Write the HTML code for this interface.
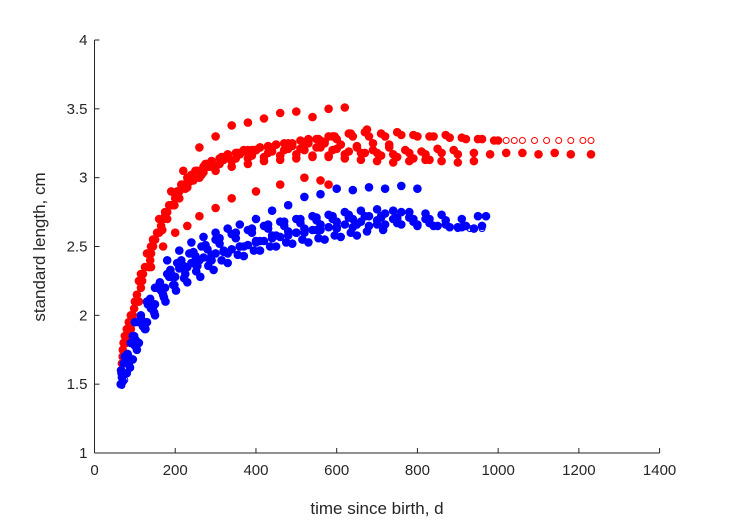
<!DOCTYPE html>
<html><head><meta charset="utf-8"><style>
body{margin:0;background:#fff}
svg text{font-family:"Liberation Sans",Arial,sans-serif;fill:#262626}
</style></head><body>
<svg id="chart" width="729" height="521" xmlns="http://www.w3.org/2000/svg">
<rect width="729" height="521" fill="#fff"/>
<g id="marks"></g>
<g id="axes"></g>
<text x="377" y="514" font-size="17" text-anchor="middle">time since birth, d</text>
<text transform="translate(45,247) rotate(-90)" font-size="17" text-anchor="middle">standard length, cm</text>
</svg>
<script>
const xTicks=[0,200,400,600,800,1000,1200,1400];
const yTicks=[1,1.5,2,2.5,3,3.5,4];
const xTickLabels=["0","200","400","600","800","1000","1200","1400"];
const yTickLabels=["1","1.5","2","2.5","3","3.5","4"];
// red (filled) trajectories: times and lengths
const redT=[
[70,100,130,160,190,220,260,300,340,380,420,460,500,540,580,620],
[70,95,120,150,180,210,240,280,320,360,400,440,480,520,560,600,640,680,720,760,800,840,880,920,960,1000],
[75,105,135,165,195,225,260,300,340,380,420,460,500,540,580,620,660,700,740,780,820,860,900,940,980,1020,1060,1100,1140,1180,1230],
[68,90,115,140,170,200,230,270,310,350,390,430,470,510,550,590,630,670,710,750,790,830,870,910,950,990],
[72,98,125,155,185,215,250,290,330,370,410,450,490,530,570,610,650,690,730,770,810,850,890],
[66,88,110,135,160,190,220,255,290,330,370,410,450,490,530,570,610,650,690,730],
[80,110,140,170,200,235,270,310,350,390,430,470,510,550,590,630,670,710,750,790,830],
[70,92,118,145,175,205,240,275,315,355,395,435,475,515,555,595,635,675],
[85,115,145,175,205,240,280,320,360,400,440,480,520,560,600],
[78,108,138,168,198,230,265,300,340,380,420,460,500,540,580,620,660,700,740,780,820,860,900,940],
[90,120,150,180,210,245,285,330,380,430,480,530,580],
[140,170,200,230,260,300,340,400,460,520,560,580]
];
const redL=[
[1.75,2.1,2.45,2.7,2.9,3.05,3.22,3.3,3.38,3.4,3.43,3.47,3.48,3.44,3.5,3.51],
[1.7,2.0,2.3,2.55,2.75,2.9,3.0,3.08,3.13,3.17,3.2,3.22,3.24,3.26,3.27,3.28,3.3,3.3,3.3,3.31,3.3,3.3,3.29,3.28,3.28,3.27],
[1.85,2.15,2.45,2.65,2.8,2.92,3.0,3.05,3.08,3.1,3.12,3.13,3.14,3.15,3.16,3.17,3.18,3.18,3.17,3.18,3.17,3.18,3.17,3.18,3.17,3.18,3.18,3.17,3.18,3.17,3.17],
[1.65,1.9,2.2,2.45,2.7,2.88,3.0,3.08,3.14,3.18,3.2,3.23,3.25,3.27,3.28,3.3,3.32,3.33,3.32,3.33,3.31,3.3,3.31,3.29,3.28,3.27],
[1.8,2.05,2.35,2.6,2.8,2.95,3.05,3.12,3.17,3.2,3.22,3.24,3.25,3.26,3.25,3.24,3.22,3.2,3.22,3.2,3.19,3.21,3.2],
[1.6,1.85,2.1,2.35,2.6,2.8,2.95,3.05,3.12,3.16,3.19,3.22,3.24,3.23,3.25,3.26,3.24,3.23,3.25,3.24],
[1.9,2.25,2.5,2.7,2.85,2.97,3.04,3.1,3.14,3.16,3.18,3.2,3.21,3.22,3.2,3.19,3.18,3.16,3.15,3.14,3.13],
[1.7,1.95,2.25,2.5,2.72,2.9,3.02,3.1,3.15,3.18,3.2,3.22,3.24,3.26,3.28,3.3,3.32,3.35],
[1.95,2.3,2.55,2.75,2.9,3.02,3.1,3.15,3.18,3.2,3.19,3.21,3.2,3.22,3.21],
[1.8,2.1,2.4,2.62,2.8,2.93,3.02,3.08,3.12,3.14,3.15,3.16,3.17,3.16,3.15,3.14,3.13,3.12,3.11,3.12,3.13,3.12,3.11,3.12],
[2.0,2.3,2.55,2.7,2.85,2.98,3.08,3.15,3.2,3.22,3.25,3.28,3.3],
[2.35,2.5,2.6,2.65,2.72,2.78,2.85,2.9,2.95,3.0,2.98,2.95]
];
const redOpenT=[1000,1020,1040,1060,1090,1120,1150,1180,1210,1230];
const redOpenL=[3.27,3.27,3.27,3.27,3.27,3.27,3.27,3.27,3.27,3.27];
const blueT=[
[120,150,180,210,240,270,300,330,360,400,440,480,520,560,600,640,680,720,760,800],
[65,80,95,110,130,150,175,200,230,260,290,320,360,400,440,480,520,560,600,640,680,720,760,800,840,880,920,960],
[68,85,100,120,140,165,190,220,250,280,310,350,390,430,470,510,550,590,630,670,710,750,790,830,870,910,950,970],
[66,82,98,115,135,160,185,210,240,270,300,340,380,420,460,500,540,580,620,660,700,740,780,820],
[70,88,105,125,148,172,198,225,255,285,320,360,400,440,480,520,560,600,640,680,720,760],
[72,90,110,132,155,180,205,235,265,300,340,380,420,460,500,540,580,620,660,700,740,780,820,860],
[67,84,102,122,145,170,195,222,252,282,315,355,395,435,475,515,555,595,635,675,715],
[75,95,115,138,162,188,215,245,275,310,350,390,430,470,510,550,590,630,670,710,750,790,830,870,910],
[69,86,104,126,150,176,202,230,262,295,330,370,410,450,490,530,570,610,650],
[100,130,160,190,220,250,290,330,370,410,450,500,550,600,650,700,750,800,850,900,940]
];
const blueL=[
[1.95,2.2,2.4,2.47,2.53,2.57,2.6,2.63,2.66,2.7,2.76,2.8,2.86,2.88,2.92,2.91,2.93,2.92,2.94,2.92],
[1.5,1.58,1.68,1.8,1.95,2.08,2.2,2.28,2.35,2.4,2.44,2.47,2.5,2.53,2.56,2.58,2.6,2.62,2.63,2.64,2.65,2.66,2.66,2.65,2.65,2.64,2.65,2.65],
[1.55,1.65,1.78,1.92,2.05,2.18,2.28,2.36,2.43,2.48,2.52,2.56,2.6,2.63,2.65,2.67,2.69,2.7,2.71,2.72,2.72,2.71,2.7,2.7,2.69,2.7,2.72,2.72],
[1.6,1.72,1.85,1.98,2.1,2.2,2.28,2.34,2.38,2.42,2.45,2.48,2.51,2.54,2.57,2.6,2.62,2.64,2.66,2.68,2.69,2.7,2.71,2.7],
[1.52,1.62,1.75,1.9,2.02,2.13,2.22,2.3,2.36,2.41,2.46,2.5,2.54,2.58,2.61,2.63,2.66,2.68,2.7,2.72,2.74,2.75],
[1.65,1.8,1.95,2.08,2.2,2.3,2.38,2.45,2.5,2.55,2.59,2.62,2.65,2.68,2.7,2.72,2.73,2.75,2.76,2.77,2.76,2.75,2.74,2.73],
[1.58,1.7,1.82,1.95,2.06,2.15,2.22,2.27,2.32,2.36,2.4,2.44,2.47,2.5,2.53,2.55,2.56,2.58,2.6,2.61,2.62],
[1.7,1.85,2.0,2.12,2.24,2.33,2.4,2.46,2.51,2.56,2.6,2.63,2.66,2.68,2.7,2.71,2.72,2.73,2.72,2.71,2.7,2.68,2.67,2.66,2.64],
[1.56,1.66,1.78,1.9,2.0,2.1,2.18,2.24,2.28,2.33,2.38,2.43,2.47,2.5,2.52,2.53,2.55,2.57,2.58],
[1.95,2.1,2.22,2.3,2.34,2.37,2.4,2.45,2.5,2.54,2.58,2.6,2.62,2.64,2.66,2.66,2.67,2.66,2.65,2.64,2.63]
];
const blueOpenT=[68,75,900,930,960];
const blueOpenL=[1.49,1.53,2.63,2.63,2.63];

const X0=94.5,X1=659.6,Y0=453,Y1=40;
function xs(t){return X0+(t-0)/(1400-0)*(X1-X0);}
function ys(v){return Y0-(v-1)/(4-1)*(Y0-Y1);}
const NS="http://www.w3.org/2000/svg";
const marks=document.getElementById('marks');
const axes=document.getElementById('axes');
function dot(t,v,color,open,name){
  const c=document.createElementNS(NS,'circle');
  c.setAttribute('cx',xs(t).toFixed(1));
  c.setAttribute('cy',ys(v).toFixed(1));
  c.setAttribute('r',open?3:4.3);
  if(open){c.setAttribute('fill','none');c.setAttribute('stroke',color);c.setAttribute('stroke-width','1');}
  else c.setAttribute('fill',color);
  
  
  marks.appendChild(c);
}
redT.forEach((ts,i)=>ts.forEach((t,j)=>dot(t,redL[i][j],'#ff0000',false,'red-point')));
blueT.forEach((ts,i)=>ts.forEach((t,j)=>dot(t,blueL[i][j],'#0000ff',false,'blue-point')));
redOpenT.forEach((t,j)=>dot(t,redOpenL[j],'#ff0000',true,'red-open-point'));
blueOpenT.forEach((t,j)=>dot(t,blueOpenL[j],'#0000ff',true,'blue-open-point'));

function line(x1,y1,x2,y2,name){
  const l=document.createElementNS(NS,'line');
  l.setAttribute('x1',x1);l.setAttribute('y1',y1);l.setAttribute('x2',x2);l.setAttribute('y2',y2);
  l.setAttribute('stroke','#262626');l.setAttribute('stroke-width','1');
  
  
  axes.appendChild(l);
}
function txt(x,y,s,anchor,name){
  const e=document.createElementNS(NS,'text');
  e.setAttribute('x',x);e.setAttribute('y',y);e.setAttribute('font-size','15');
  e.setAttribute('text-anchor',anchor);e.textContent=s;
  
  
  axes.appendChild(e);
}
line(X0,Y0,X1,Y0,'x-axis-line');
line(X0,Y0,X0,Y1,'y-axis-line');
xTicks.forEach((t,i)=>{const x=xs(t);line(x,Y0,x,Y0-5,'x-tick');txt(x,Y0+22,xTickLabels[i],'middle','x-tick-label');});
yTicks.forEach((v,i)=>{const y=ys(v);line(X0,y,X0+5,y,'y-tick');txt(X0-7,y+5,yTickLabels[i],'end','y-tick-label');});
</script>
</body></html>
